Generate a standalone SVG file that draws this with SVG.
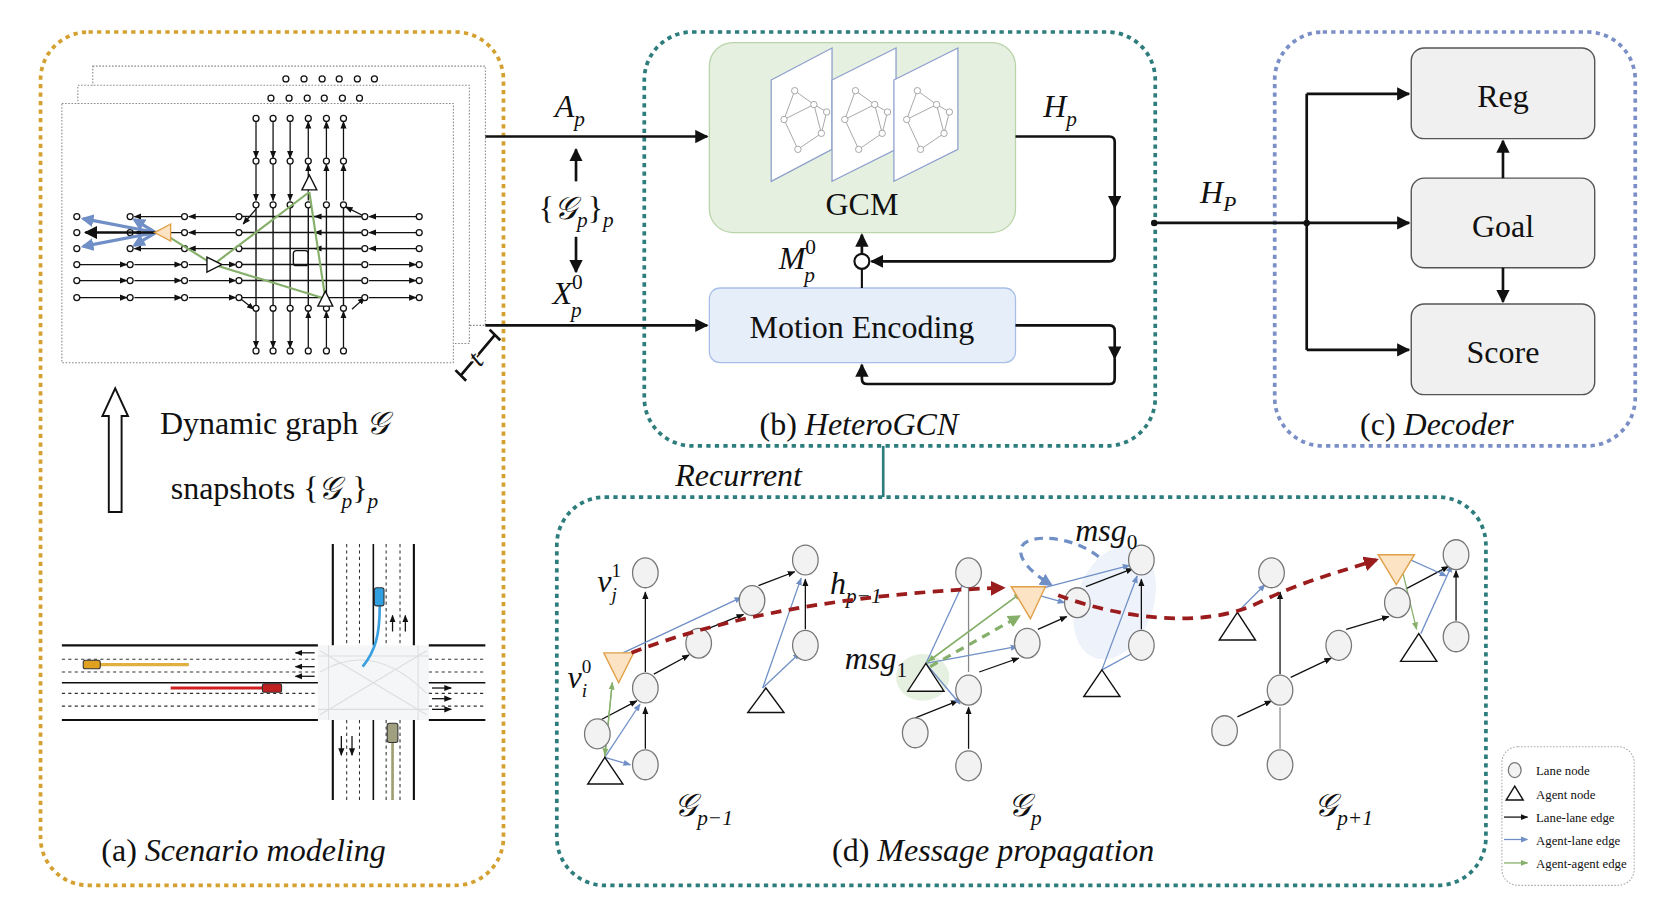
<svg xmlns="http://www.w3.org/2000/svg" width="1664" height="920" viewBox="0 0 1664 920">
<style>
text{font-family:"Liberation Serif","DejaVu Serif",serif;fill:#111}
.m{font-style:italic}
.big{font-size:30px}
.lab{font-size:30px}
.ln{fill:#f2f2f2;stroke:#777;stroke-width:1.2}
.k{stroke:#111;stroke-width:1.2;fill:none;marker-end:url(#ak)}
.b{stroke:#6f8fc6;stroke-width:1.2;fill:none;marker-end:url(#ab)}
.g{stroke:#86b06a;stroke-width:1.2;fill:none;marker-end:url(#ag)}
.ag{fill:#fff;stroke:#111;stroke-width:1.3}
.og{fill:#fbe3c4;stroke:#e0a048;stroke-width:1.3}
.th{stroke:#111;stroke-width:2.5;fill:none;marker-end:url(#aK)}
.lg{font-size:12px}
</style>
<defs>
<marker id="ak" viewBox="0 0 10 10" refX="9" refY="5" markerWidth="6" markerHeight="6" orient="auto"><path d="M0,1 L10,5 L0,9 z" fill="#111"/></marker>
<marker id="aK" viewBox="0 0 10 10" refX="9" refY="5" markerWidth="5" markerHeight="5" orient="auto"><path d="M0,0 L10,5 L0,10 z" fill="#111"/></marker>
<marker id="ab" viewBox="0 0 10 10" refX="9" refY="5" markerWidth="6" markerHeight="6" orient="auto"><path d="M0,1 L10,5 L0,9 z" fill="#6f8fc6"/></marker>
<marker id="ag" viewBox="0 0 10 10" refX="9" refY="5" markerWidth="6" markerHeight="6" orient="auto"><path d="M0,1 L10,5 L0,9 z" fill="#86b06a"/></marker>
<marker id="ar" viewBox="0 0 10 10" refX="8" refY="5" markerWidth="4" markerHeight="4" orient="auto"><path d="M0,0 L10,5 L0,10 z" fill="#9b1c1c"/></marker>
<marker id="aB" viewBox="0 0 10 10" refX="8" refY="5" markerWidth="4" markerHeight="4" orient="auto"><path d="M0,0 L10,5 L0,10 z" fill="#6f8fc6"/></marker>
<marker id="aG" viewBox="0 0 10 10" refX="8" refY="5" markerWidth="4" markerHeight="4" orient="auto"><path d="M0,0 L10,5 L0,10 z" fill="#86b06a"/></marker>
<g id="dn"><path class="k" d="M0,0V34"/></g>
<g id="up"><path class="k" d="M0,34V0"/></g>
<g id="lf"><path class="k" d="M0,0H-44"/></g>
<g id="rt"><path class="k" d="M0,0H44"/></g>
</defs>
<rect width="1664" height="920" fill="#fff"/>
<g transform="scale(1.0667)">
<g id="panel-a"><rect x="38" y="30" width="434" height="800" rx="45" fill="none" stroke="#d4a030" stroke-width="3.5" stroke-dasharray="4,4"/></g>
<g id="panel-b"><rect x="604" y="30" width="479" height="388" rx="45" fill="none" stroke="#2e7d7d" stroke-width="3.5" stroke-dasharray="4,4"/></g>
<g id="panel-c"><rect x="1195" y="30" width="338" height="388" rx="45" fill="none" stroke="#7b8fc7" stroke-width="3.5" stroke-dasharray="4,4"/></g>
<g id="panel-d"><rect x="522" y="466" width="871" height="364" rx="45" fill="none" stroke="#2e7d7d" stroke-width="3.5" stroke-dasharray="4,4"/></g>

<g id="snapshots">
<rect x="87" y="62" width="368" height="243" fill="#fff" stroke="#888" stroke-dasharray="1.5,1.5"/>
<rect x="73" y="80" width="367" height="242" fill="#fff" stroke="#888" stroke-dasharray="1.5,1.5"/>
<rect x="58" y="97" width="367" height="243" fill="#fff" stroke="#888" stroke-dasharray="1.5,1.5"/>
<g fill="#fff" stroke="#111" stroke-width="1.2">
<circle cx="268" cy="74" r="2.8"/><circle cx="285" cy="74" r="2.8"/><circle cx="302" cy="74" r="2.8"/><circle cx="318" cy="74" r="2.8"/><circle cx="335" cy="74" r="2.8"/><circle cx="351" cy="74" r="2.8"/>
<circle cx="254" cy="92" r="2.8"/><circle cx="271" cy="92" r="2.8"/><circle cx="288" cy="92" r="2.8"/><circle cx="304" cy="92" r="2.8"/><circle cx="321" cy="92" r="2.8"/><circle cx="337" cy="92" r="2.8"/>
</g>
<g stroke="#111" stroke-width="1.3" fill="none">
<path d="M240,192V290M256,192V290M272,192V290M289,192V290M306,192V290M322,192V290"/>
<path d="M224,203H342M224,218H342M224,233H342M224,248H342M224,263H342M224,279H342"/>
<rect x="275" y="235" width="14" height="14" rx="3"/>
</g>
<use href="#dn" x="240" y="114"/><use href="#dn" x="256" y="114"/><use href="#dn" x="272" y="114"/>
<use href="#dn" x="240" y="154"/><use href="#dn" x="256" y="154"/><use href="#dn" x="272" y="154"/>
<use href="#dn" x="240" y="292"/><use href="#dn" x="256" y="292"/><use href="#dn" x="272" y="292"/>
<use href="#up" x="289" y="114"/><use href="#up" x="306" y="114"/><use href="#up" x="322" y="114"/>
<use href="#up" x="289" y="154"/><use href="#up" x="306" y="154"/><use href="#up" x="322" y="154"/>
<use href="#up" x="289" y="292"/><use href="#up" x="306" y="292"/><use href="#up" x="322" y="292"/>
<use href="#lf" x="170" y="203"/><use href="#lf" x="170" y="218"/><use href="#lf" x="170" y="233"/>
<use href="#lf" x="221" y="203"/><use href="#lf" x="221" y="218"/><use href="#lf" x="221" y="233"/>
<use href="#lf" x="390" y="203"/><use href="#lf" x="390" y="218"/><use href="#lf" x="390" y="233"/>
<use href="#lf" x="339" y="203"/><use href="#lf" x="339" y="218"/><use href="#lf" x="339" y="233"/>
<use href="#rt" x="75" y="248"/><use href="#rt" x="75" y="263"/><use href="#rt" x="75" y="279"/>
<use href="#rt" x="126" y="248"/><use href="#rt" x="126" y="263"/><use href="#rt" x="126" y="279"/>
<use href="#rt" x="177" y="248"/><use href="#rt" x="177" y="263"/><use href="#rt" x="177" y="279"/>
<use href="#rt" x="346" y="248"/><use href="#rt" x="346" y="263"/><use href="#rt" x="346" y="279"/>
<path class="k" d="M240,196L228,210"/><path class="k" d="M342,203L324,194"/><path class="k" d="M224,279L238,290"/><path class="k" d="M330,290L342,279"/>
<g fill="#fff" stroke="#111" stroke-width="1.2">
<g id="vn"><circle cx="240" cy="111" r="2.8"/><circle cx="256" cy="111" r="2.8"/><circle cx="272" cy="111" r="2.8"/><circle cx="289" cy="111" r="2.8"/><circle cx="306" cy="111" r="2.8"/><circle cx="322" cy="111" r="2.8"/></g>
<use href="#vn" y="40"/><use href="#vn" y="81"/><use href="#vn" y="178"/><use href="#vn" y="218"/>
<g id="hn"><circle cx="72" cy="203" r="2.8"/><circle cx="122" cy="203" r="2.8"/><circle cx="173" cy="203" r="2.8"/><circle cx="224" cy="203" r="2.8"/><circle cx="342" cy="203" r="2.8"/><circle cx="393" cy="203" r="2.8"/></g>
<use href="#hn" y="15"/><use href="#hn" y="30"/><use href="#hn" y="45"/><use href="#hn" y="60"/><use href="#hn" y="76"/>
</g>
<path d="M290,180L200,248L305,280L290,180M200,248L155,220" stroke="#86b06a" stroke-width="2" fill="none"/>
<g stroke="#6f8fc6" stroke-width="3" fill="none" marker-end="url(#aB)">
<path d="M146,218L78,205"/><path d="M146,218L78,231"/><path d="M146,218L126,206"/><path d="M146,218L126,230"/>
</g>
<path d="M146,218H80" class="th" stroke-width="2"/>
<path d="M160,210L145,218L160,226z" class="og"/>
<path d="M283,178L290,164L297,178z" class="ag"/>
<path d="M298,287L305,273L312,287z" class="ag"/>
<path d="M194,241L208,248L194,255z" class="ag"/>
<path d="M432,352L464,314M427,347L437,357M459,309L469,319" stroke="#111" stroke-width="2.5"/>
<text transform="translate(452,342) rotate(-50)" text-anchor="middle" class="m" font-size="26" fill="#111" stroke="#fff" stroke-width="3" paint-order="stroke">t</text>
</g>

<g id="dyn-text">
<path d="M102,480V390H96L108,364L120,390H114V480z" fill="#fff" stroke="#111" stroke-width="1.8"/>
<text x="150" y="407" class="big">Dynamic graph <tspan class="m">𝒢</tspan></text>
<text x="160" y="468" class="big">snapshots {<tspan class="m">𝒢</tspan><tspan class="m" font-size="20" dy="8">p</tspan><tspan dy="-8">}</tspan><tspan class="m" font-size="20" dy="8">p</tspan></text>
</g>

<g id="scene">
<rect x="298" y="605" width="104" height="70" fill="#f4f6f8"/>
<g stroke="#ddd" stroke-width="1" fill="none"><path d="M298,615H402M298,665H402M308,605V675M392,605V675"/><path d="M300,610Q350,640 400,670M300,670Q350,640 400,610M300,630Q350,600 400,650"/></g>
<g stroke="#111" stroke-width="2"><path d="M58,605H298M58,675H298M402,605H455M402,675H455M312,510V605M388,510V605M312,675V750M388,675V750"/></g>
<g stroke="#333" stroke-width="1" stroke-dasharray="3,3"><path d="M58,618H298M58,630H298M58,650H298M58,662H298M402,618H455M402,630H455M402,650H455M402,662H455M325,510V605M337,510V605M362,510V605M375,510V605M325,675V750M337,675V750M362,675V750M375,675V750"/></g>
<path d="M58,640H298M402,640H455M350,510V605M350,675V750" stroke="#111" stroke-width="1.5"/>
<path d="M92,623H177" stroke="#e0b040" stroke-width="3"/>
<rect x="78" y="619" width="16" height="8" rx="2" fill="#e0a020" stroke="#333"/>
<path d="M160,645H248" stroke="#d02020" stroke-width="3"/>
<rect x="246" y="641" width="18" height="8" rx="2" fill="#c02020" stroke="#333"/>
<path d="M356,568C356,595 352,610 340,625" stroke="#3aa0e0" stroke-width="2.5" fill="none"/>
<rect x="351" y="551" width="9" height="17" rx="2" fill="#30a0e0" stroke="#333"/>
<path d="M368,690V750" stroke="#a0a070" stroke-width="2.5"/>
<rect x="363" y="678" width="10" height="18" rx="2" fill="#a0a080" stroke="#333"/>
<path class="k" d="M295,612H277"/><path class="k" d="M295,625H277"/><path class="k" d="M295,634H277"/>
<path class="k" d="M405,645H423"/><path class="k" d="M405,655H423"/><path class="k" d="M405,665H423"/>
<path class="k" d="M368,592V577"/><path class="k" d="M380,592V577"/><path class="k" d="M320,690V708"/><path class="k" d="M330,690V708"/>
</g>

<g id="gcm">
<rect x="665" y="40" width="287" height="178" rx="22" fill="#e6f0e0" stroke="#b8d4a8" stroke-width="1.2"/>
<g stroke="#8ea0cc" stroke-width="1.2" fill="#fff">
<path d="M723,75L780,45V140L723,170z"/><path d="M780,75L840,45V140L780,170z"/><path d="M838,75L898,45V140L838,170z"/>
</g>
<g stroke="#999" stroke-width="0.8" fill="none">
<path d="M745,85L763,98L735,112L748,140L770,125L763,98M745,85L735,112M770,125L775,105L763,98"/>
<path d="M802,85L820,98L792,112L805,140L827,125L820,98M802,85L792,112M827,125L832,105L820,98"/>
<path d="M860,85L878,98L850,112L863,140L885,125L878,98M860,85L850,112M885,125L890,105L878,98"/>
</g>
<g fill="#fff" stroke="#999" stroke-width="0.8">
<circle cx="745" cy="85" r="3"/><circle cx="763" cy="98" r="3"/><circle cx="735" cy="112" r="3"/><circle cx="748" cy="140" r="3"/><circle cx="770" cy="125" r="3"/><circle cx="775" cy="105" r="3"/>
<circle cx="802" cy="85" r="3"/><circle cx="820" cy="98" r="3"/><circle cx="792" cy="112" r="3"/><circle cx="805" cy="140" r="3"/><circle cx="827" cy="125" r="3"/><circle cx="832" cy="105" r="3"/>
<circle cx="860" cy="85" r="3"/><circle cx="878" cy="98" r="3"/><circle cx="850" cy="112" r="3"/><circle cx="863" cy="140" r="3"/><circle cx="885" cy="125" r="3"/><circle cx="890" cy="105" r="3"/>
</g>
<text x="808" y="202" text-anchor="middle" class="big">GCM</text>
</g>
<g id="motion">
<rect x="665" y="270" width="287" height="70" rx="10" fill="#e6eefa" stroke="#a8c0e8" stroke-width="1.2"/>
<text x="808" y="317" text-anchor="middle" class="big">Motion Encoding</text>
</g>
<g id="decoder">
<rect x="1323" y="45" width="172" height="85" rx="12" fill="#f0f0f0" stroke="#555" stroke-width="1.3"/>
<text x="1409" y="100" text-anchor="middle" class="big">Reg</text>
<rect x="1323" y="167" width="172" height="84" rx="12" fill="#f0f0f0" stroke="#555" stroke-width="1.3"/>
<text x="1409" y="222" text-anchor="middle" class="big">Goal</text>
<rect x="1323" y="285" width="172" height="85" rx="12" fill="#f0f0f0" stroke="#555" stroke-width="1.3"/>
<text x="1409" y="340" text-anchor="middle" class="big">Score</text>
</g>

<g id="connectors">
<path d="M455,128H663" class="th"/>
<path d="M455,305H663" class="th"/>
<path d="M540,170V140" class="th" stroke-width="2"/>
<path d="M540,222V255" class="th" stroke-width="2"/>
<circle cx="808" cy="245" r="7" fill="#fff" stroke="#111" stroke-width="2"/>
<path d="M808,238V220" class="th" stroke-width="2"/>
<path d="M808,252V270" stroke="#111" stroke-width="2"/>
<path d="M952,128H1040Q1045,128 1045,133V195" class="th" stroke-width="2"/>
<path d="M1045,195V240Q1045,245 1040,245H817" class="th" stroke-width="2"/>
<path d="M952,305H1040Q1045,305 1045,310V336" class="th" stroke-width="2"/>
<path d="M1045,336V355Q1045,360 1040,360H813Q808,360 808,355V342" class="th" stroke-width="2"/>
<circle cx="1082" cy="209" r="3" fill="#111"/>
<path d="M1082,209H1225" stroke="#111" stroke-width="2.5"/>
<circle cx="1225" cy="209" r="3" fill="#111"/>
<path d="M1225,88V328" stroke="#111" stroke-width="2.5"/>
<path d="M1225,88H1321" class="th"/>
<path d="M1225,209H1321" class="th"/>
<path d="M1225,328H1321" class="th"/>
<path d="M1409,167V132" class="th" stroke-width="2"/>
<path d="M1409,251V283" class="th" stroke-width="2"/>
<path d="M828,418V466" stroke="#2e7d7d" stroke-width="2.5"/>
</g>

<g id="math-labels">
<text x="520" y="110" class="m big">A<tspan font-size="20" dy="8">p</tspan></text>
<text x="505" y="205" class="big">{<tspan class="m">𝒢</tspan><tspan class="m" font-size="20" dy="8">p</tspan><tspan dy="-8">}</tspan><tspan class="m" font-size="20" dy="8">p</tspan></text>
<text x="518" y="285" class="m big">X<tspan font-size="20" dy="-14" font-style="normal">0</tspan><tspan font-size="20" dx="-11" dy="26">p</tspan></text>
<text x="730" y="252" class="m big">M<tspan font-size="20" dy="-14" font-style="normal">0</tspan><tspan font-size="20" dx="-11" dy="26">p</tspan></text>
<text x="978" y="110" class="m big">H<tspan font-size="20" dy="8">p</tspan></text>
<text x="1125" y="190" class="m big">H<tspan font-size="20" dy="8">P</tspan></text>
<text x="712" y="408" class="lab">(b)  <tspan class="m">HeteroGCN</tspan></text>
<text x="1275" y="408" class="lab">(c)   <tspan class="m">Decoder</tspan></text>
<text x="95" y="807" class="lab">(a)  <tspan class="m">Scenario modeling</tspan></text>
<text x="780" y="807" class="lab">(d)  <tspan class="m">Message propagation</tspan></text>
<text x="633" y="456" class="m lab">Recurrent</text>
</g>

<g id="clouds">
<ellipse cx="1045" cy="565" rx="36" ry="55" fill="#eef3fb" transform="rotate(20 1045 565)"/>
<ellipse cx="865" cy="635" rx="25" ry="22" fill="#e6f0e0"/>
</g>
<g id="graph-pm1">
<path class="k" d="M605,702V663"/><path class="k" d="M605,630V555"/><path class="k" d="M563,675L597,657"/><path class="k" d="M613,632L646,614"/><path class="k" d="M662,590L697,576"/><path class="k" d="M711,549L745,536"/><path class="k" d="M755,590V543"/>
<path class="b" d="M582,613L695,560"/><path class="b" d="M567,710L600,660"/><path class="b" d="M567,710L591,717"/><path class="b" d="M715,645L751,542"/><path class="b" d="M715,645L750,612"/>
<path class="g" d="M567,710L574,640"/><path class="g" d="M574,640L567,708"/>
<ellipse class="ln" cx="605" cy="537" rx="12" ry="14"/><ellipse class="ln" cx="705" cy="563" rx="12" ry="14"/><ellipse class="ln" cx="755" cy="525" rx="12" ry="14"/><ellipse class="ln" cx="655" cy="603" rx="12" ry="14"/><ellipse class="ln" cx="605" cy="645" rx="12" ry="14"/><ellipse class="ln" cx="560" cy="688" rx="12" ry="14"/><ellipse class="ln" cx="605" cy="717" rx="12" ry="14"/><ellipse class="ln" cx="755" cy="605" rx="12" ry="14"/>
<path class="og" d="M566,612H594L580,640z"/>
<path class="ag" d="M567,710L551,735H584z"/>
<path class="ag" d="M718,645L701,668H735z"/>
<text x="560" y="555" class="m lab">v<tspan font-size="18" dy="-14" font-style="normal">1</tspan><tspan font-size="18" dx="-9" dy="22">j</tspan></text>
<text x="532" y="645" class="m lab">v<tspan font-size="18" dy="-14" font-style="normal">0</tspan><tspan font-size="18" dx="-9" dy="22">i</tspan></text>
<text x="632" y="765" class="m lab">𝒢<tspan font-size="20" dy="8">p−1</tspan></text>
</g>
<g id="graph-p">
<path d="M908,630V550" stroke="#888" stroke-width="1.2"/>
<path class="k" d="M908,702V663"/><path class="k" d="M858,673L898,657"/><path class="k" d="M918,630L955,617"/><path class="k" d="M973,590L1000,578"/><path class="k" d="M1018,550L1062,533"/><path class="k" d="M1070,590V543"/>
<path class="b" d="M868,622L905,542"/><path class="b" d="M868,622L954,606"/><path class="b" d="M868,622L900,660"/><path class="b" d="M963,555L1059,530"/><path class="b" d="M963,555L998,565"/><path class="b" d="M1033,628L1066,540"/><path class="b" d="M1033,628L1066,610"/>
<path class="g" d="M868,622L957,556"/><path class="g" d="M957,556L870,620"/>
<path d="M872,625L955,578" stroke="#86b06a" stroke-width="3" stroke-dasharray="8,6" fill="none" marker-end="url(#aG)"/>
<path d="M1030,522C1005,502 965,500 958,512C952,525 972,540 985,548" stroke="#6f8fc6" stroke-width="3" stroke-dasharray="8,6" fill="none" marker-end="url(#aB)"/>
<ellipse class="ln" cx="908" cy="537" rx="12" ry="14"/><ellipse class="ln" cx="1010" cy="565" rx="12" ry="14"/><ellipse class="ln" cx="1070" cy="525" rx="12" ry="14"/><ellipse class="ln" cx="963" cy="603" rx="12" ry="14"/><ellipse class="ln" cx="908" cy="647" rx="12" ry="14"/><ellipse class="ln" cx="858" cy="687" rx="12" ry="14"/><ellipse class="ln" cx="908" cy="718" rx="12" ry="14"/><ellipse class="ln" cx="1070" cy="605" rx="12" ry="14"/>
<path class="og" d="M948,550H980L966,580z"/>
<path class="ag" d="M868,622L851,648H885z"/>
<path class="ag" d="M1033,628L1016,653H1050z"/>
<text x="1008" y="507" class="m lab">msg<tspan font-size="20" dy="8" font-style="normal">0</tspan></text>
<text x="792" y="627" class="m lab">msg<tspan font-size="20" dy="8" font-style="normal">1</tspan></text>
<text x="778" y="557" class="m lab">h<tspan font-size="20" dy="8">p−1</tspan></text>
<text x="945" y="765" class="m lab">𝒢<tspan font-size="20" dy="8">p</tspan></text>
</g>
<g id="graph-pp1">
<path d="M1200,702V663" stroke="#888" stroke-width="1.2"/>
<path class="k" d="M1160,672L1192,657"/><path class="k" d="M1210,635L1248,617"/><path class="k" d="M1262,590L1302,578"/><path class="k" d="M1318,552L1358,531"/><path class="k" d="M1365,582V535"/><path class="k" d="M1200,632V555"/>
<path class="b" d="M1160,574L1186,548"/><path class="b" d="M1316,522L1356,540"/><path class="b" d="M1332,594L1361,530"/>
<path class="g" d="M1312,524L1328,590"/>
<ellipse class="ln" cx="1192" cy="537" rx="12" ry="14"/><ellipse class="ln" cx="1365" cy="520" rx="12" ry="14"/><ellipse class="ln" cx="1310" cy="565" rx="12" ry="14"/><ellipse class="ln" cx="1255" cy="605" rx="12" ry="14"/><ellipse class="ln" cx="1200" cy="647" rx="12" ry="14"/><ellipse class="ln" cx="1148" cy="685" rx="12" ry="14"/><ellipse class="ln" cx="1200" cy="717" rx="12" ry="14"/><ellipse class="ln" cx="1365" cy="597" rx="12" ry="14"/>
<path class="og" d="M1292,520H1326L1309,548z"/>
<path class="ag" d="M1160,574L1143,600H1177z"/>
<path class="ag" d="M1330,594L1313,620H1347z"/>
<text x="1232" y="765" class="m lab">𝒢<tspan font-size="20" dy="8">p+1</tspan></text>
</g>
<path d="M592,612C700,570 830,555 940,551" stroke="#9b1c1c" stroke-width="3.5" stroke-dasharray="10,7" fill="none" marker-end="url(#ar)"/>
<path d="M992,558C1050,580 1130,590 1180,565C1220,545 1260,535 1290,525" stroke="#9b1c1c" stroke-width="3.5" stroke-dasharray="10,7" fill="none" marker-end="url(#ar)"/>

<g id="legend">
<rect x="1408" y="700" width="124" height="130" rx="15" fill="#fff" stroke="#aaa" stroke-dasharray="1.5,1.5"/>
<ellipse class="ln" cx="1420" cy="722" rx="6" ry="7"/><text x="1440" y="727" class="lg">Lane node</text>
<path class="ag" d="M1420,737L1412,750H1428z"/><text x="1440" y="749" class="lg">Agent node</text>
<path class="k" d="M1410,766H1432"/><text x="1440" y="771" class="lg">Lane-lane edge</text>
<path class="b" d="M1410,787H1432"/><text x="1440" y="792" class="lg">Agent-lane edge</text>
<path class="g" d="M1410,809H1432"/><text x="1440" y="814" class="lg">Agent-agent edge</text>
</g>
</g>
</svg>
